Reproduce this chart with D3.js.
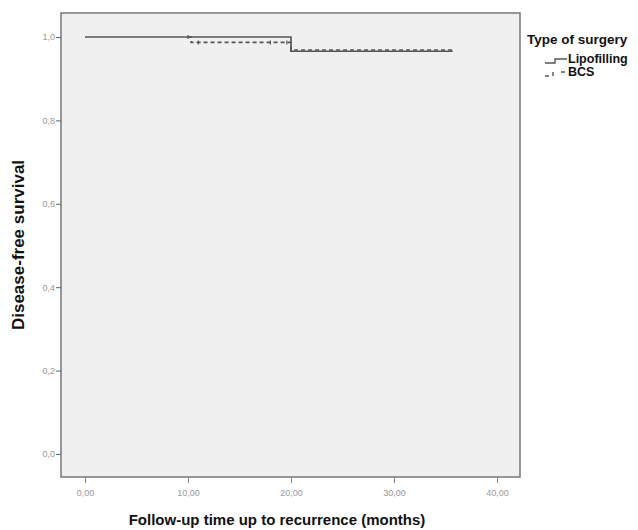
<!DOCTYPE html>
<html lang="en">
<head>
<meta charset="UTF-8">
<title>Disease-free survival</title>
<style>
  body { margin: 0; background: #fff; font-family: Arial, "Liberation Sans", sans-serif; }
</style>
</head>
<body>
<svg id="chart"></svg>
<script src="https://d3js.org/d3.v7.min.js"></script>
<script>
// Kaplan-Meier step data: [time, survival]
const lipofilling = [[0, 1.0], [20, 1.0], [20, 0.966], [35.7, 0.966]];
const bcs = [[10, 1.0], [10.3, 1.0], [10.3, 0.987], [20, 0.987], [20, 0.969], [35.7, 0.969]];
const bcsCensored = [[10, 1.0], [11, 0.987], [18, 0.987], [19.6, 0.987], [20, 0.969]];
const yTicks = [0, 0.2, 0.4, 0.6, 0.8, 1.0];
const xTicks = [0, 10, 20, 30, 40];
const groups = ["Lipofilling", "BCS"];

const width = 638, height = 530;
const frame = { left: 61, top: 13, right: 520, bottom: 477 };

const svg = d3.select("#chart").attr("width", width).attr("height", height);

const x = d3.scaleLinear().domain([0, 40]).range([85, 497]);
const y = d3.scaleLinear().domain([0, 1]).range([454, 37]);

// plot background
svg.append("rect")
  .attr("x", frame.left).attr("y", frame.top)
  .attr("width", frame.right - frame.left).attr("height", frame.bottom - frame.top)
  .attr("fill", "#f0f0f0").attr("stroke", "#777").attr("stroke-width", 1.5);

// y axis
const yAxis = svg.append("g").attr("transform", `translate(${frame.left},0)`)
  .call(d3.axisLeft(y).tickValues(yTicks).tickSize(5).tickSizeOuter(0)
    .tickFormat(d => d3.format(".1f")(d).replace(".", ",")));
yAxis.select(".domain").remove();
yAxis.selectAll("line").attr("stroke", "#666");
yAxis.selectAll("text").attr("fill", "#999").attr("font-size", 9).attr("x", -6);

// x axis
const xAxis = svg.append("g").attr("transform", `translate(0,${frame.bottom})`)
  .call(d3.axisBottom(x).tickValues(xTicks).tickSize(6).tickSizeOuter(0)
    .tickFormat(d => d3.format(".2f")(d).replace(".", ",")));
xAxis.select(".domain").remove();
xAxis.selectAll("line").attr("stroke", "#888");
xAxis.selectAll("text").attr("fill", "#999").attr("font-size", 9).attr("y", 13);

const line = d3.line().x(d => x(d[0])).y(d => y(d[1]));

svg.append("path").datum(bcs)
  .attr("d", line).attr("fill", "none")
  .attr("stroke", "#555").attr("stroke-width", 1.6).attr("stroke-dasharray", "4,3");

svg.append("path").datum(lipofilling)
  .attr("d", line).attr("fill", "none")
  .attr("stroke", "#555").attr("stroke-width", 1.6);

svg.append("g").selectAll("line").data(bcsCensored).join("line")
  .attr("x1", d => x(d[0])).attr("x2", d => x(d[0]))
  .attr("y1", d => y(d[1]) - 2).attr("y2", d => y(d[1]) + 2)
  .attr("stroke", "#555").attr("stroke-width", 1.2);

// axis titles
svg.append("text")
  .attr("transform", "translate(24,245) rotate(-90)")
  .attr("text-anchor", "middle").attr("font-weight", "bold").attr("font-size", 17)
  .attr("fill", "#111").text("Disease-free survival");

svg.append("text")
  .attr("x", 277).attr("y", 525)
  .attr("text-anchor", "middle").attr("font-weight", "bold").attr("font-size", 15)
  .attr("fill", "#111").text("Follow-up time up to recurrence (months)");

// legend
const legend = svg.append("g");
legend.append("text").attr("x", 527).attr("y", 44)
  .attr("font-weight", "bold").attr("font-size", 13.5).attr("fill", "#111")
  .text("Type of surgery");

const item = legend.selectAll("g.item").data(groups).join("g")
  .attr("class", "item")
  .attr("transform", (d, i) => `translate(545,${63 + i * 13})`);

item.append("path")
  .attr("d", (d, i) => i === 0 ? "M0,0 H10 V-4 H22" : "M0,0 H4 M8,0 V-4 M16,-4 H20")
  .attr("fill", "none").attr("stroke", "#555").attr("stroke-width", 1.4);

item.append("text").attr("x", 23).attr("y", 0)
  .attr("font-weight", "bold").attr("font-size", 12.5).attr("fill", "#111")
  .text(d => d);
</script>
</body>
</html>
